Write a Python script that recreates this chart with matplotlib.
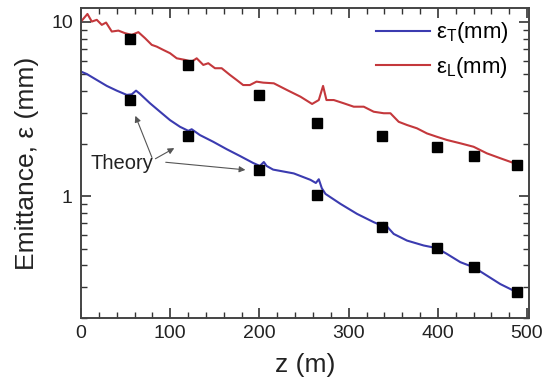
import matplotlib
matplotlib.use("Agg")
import matplotlib.pyplot as plt
from matplotlib.ticker import FixedLocator, FixedFormatter, LogLocator, MultipleLocator, NullFormatter

plt.rcParams["font.family"] = ["Liberation Sans", "DejaVu Sans"]
plt.rcParams["mathtext.fontset"] = "custom"
plt.rcParams["mathtext.rm"] = "Liberation Sans"

# simulated transverse emittance along the beamline
Z_T = [0, 6.4, 17.6, 28.8, 40.0, 51.2, 56.8, 61.6, 66.1, 77.3, 88.5, 99.7, 110.9,
       120.2, 124.0, 133.3, 148.2, 163.2, 178.1, 192.9, 200.4, 204.9, 208.0, 215.3,
       238.5, 257.2, 263.2, 266.5, 269.9, 274.0, 290.8, 309.4, 328.1, 336.7, 339.3,
       350.5, 365.4, 384.1, 399.0, 410.2, 425.2, 440.1, 455.0, 470.0, 484.9]
EPS_T = [5.18, 5.02, 4.64, 4.29, 4.03, 3.81, 3.84, 4.03, 3.86, 3.41, 3.05, 2.73, 2.50,
         2.37, 2.42, 2.24, 2.05, 1.86, 1.70, 1.55, 1.49, 1.57, 1.49, 1.42,
         1.35, 1.24, 1.19, 1.25, 1.11, 1.03, 0.903, 0.791, 0.709, 0.679, 0.703,
         0.607, 0.556, 0.521, 0.503, 0.466, 0.418, 0.391, 0.350, 0.313, 0.287]

# simulated longitudinal emittance
Z_L = [0.8, 7.1, 12.0, 17.6, 23.2, 28.0, 34.4, 41.8, 49.3, 56.8, 64.2, 71.7, 79.2,
       84.8, 92.2, 99.7, 107.2, 116.5, 124.0, 129.6, 137.0, 142.6, 150.1, 157.6,
       166.9, 174.4, 181.7, 189.2, 196.7, 204.1, 216.1, 231.0, 246.0, 259.0, 266.5,
       271.3, 275.1, 283.3, 294.5, 305.7, 316.9, 328.1, 339.3, 346.8, 356.1, 365.4,
       376.6, 387.8, 399.0, 410.2, 425.2, 440.1, 455.0, 470.0, 484.9]
EPS_L = [10.17, 11.1, 10.04, 10.27, 9.61, 9.91, 8.80, 8.91, 8.61, 8.42, 8.73, 8.06, 7.38,
         7.21, 6.90, 6.61, 6.18, 6.05, 5.91, 6.18, 5.66, 5.79, 5.42, 5.42,
         4.96, 4.64, 4.34, 4.34, 4.54, 4.48, 4.44, 4.06, 3.72, 3.38, 3.56,
         4.29, 3.56, 3.56, 3.41, 3.26, 3.26, 3.05, 2.99, 2.99, 2.67, 2.56,
         2.45, 2.29, 2.19, 2.10, 2.01, 1.92, 1.76, 1.65, 1.55]

# theory points
Z_THEORY = [55, 120, 200, 264, 337, 399, 440, 489]
THEORY_T = [3.56, 2.22, 1.41, 1.01, 0.663, 0.505, 0.392, 0.281]
THEORY_L = [7.95, 5.66, 3.82, 2.62, 2.21, 1.92, 1.71, 1.51]

fig = plt.figure(figsize=(5.48, 3.84), dpi=100)
ax = fig.add_axes([0.148, 0.172, 0.817, 0.807])

ax.plot(Z_T, EPS_T, color="#3b3bb0", lw=1.5, label="ε$_\\mathregular{T}$(mm)")
ax.plot(Z_L, EPS_L, color="#c4383c", lw=1.5, label="ε$_\\mathregular{L}$(mm)")
ax.plot(Z_THEORY, THEORY_T, "s", color="black", ms=7.5, ls="none")
ax.plot(Z_THEORY, THEORY_L, "s", color="black", ms=7.5, ls="none")

ax.text(46, 1.53, "Theory", fontsize=14.5, ha="center", va="center", color="#222222")
arrow = dict(arrowstyle="-|>", color="#555555", lw=0.8, mutation_scale=9)
ax.annotate("", xy=(59.7, 2.99), xytext=(80.6, 1.61), arrowprops=arrow)
ax.annotate("", xy=(107.2, 1.92), xytext=(80.6, 1.61), arrowprops=arrow)
ax.annotate("", xy=(187.3, 1.41), xytext=(91.8, 1.57), arrowprops=arrow)

ax.set_yscale("log")
ax.set_xlim(0, 502)
ax.set_ylim(0.2, 12)

ax.xaxis.set_major_locator(MultipleLocator(100))
ax.xaxis.set_minor_locator(MultipleLocator(20))
ax.yaxis.set_major_locator(FixedLocator([1, 10]))
ax.yaxis.set_major_formatter(FixedFormatter(["1", "10"]))
ax.yaxis.set_minor_locator(LogLocator(base=10, subs=range(2, 10)))
ax.yaxis.set_minor_formatter(NullFormatter())

ax.tick_params(which="both", direction="in", top=True, right=True,
               labelsize=14, color="#333333", labelcolor="#222222")
ax.tick_params(which="major", length=7, width=1.2)
ax.tick_params(which="minor", length=4, width=1.0)
ax.tick_params(axis="x", pad=5)
ax.tick_params(axis="y", pad=6)
for s in ax.spines.values():
    s.set_linewidth(1.4)
    s.set_color("#444444")

ax.set_xlabel("z (m)", fontsize=19, labelpad=8, color="#222222")
ax.set_ylabel("Emittance, ε (mm)", fontsize=19, labelpad=9, color="#222222")

ax.legend(loc="upper right", bbox_to_anchor=(0.955, 0.96), frameon=False, fontsize=16,
          handlelength=2.45, handletextpad=0.25, labelspacing=0.42,
          borderpad=0, borderaxespad=0)

fig.savefig("out.png", dpi=100)
